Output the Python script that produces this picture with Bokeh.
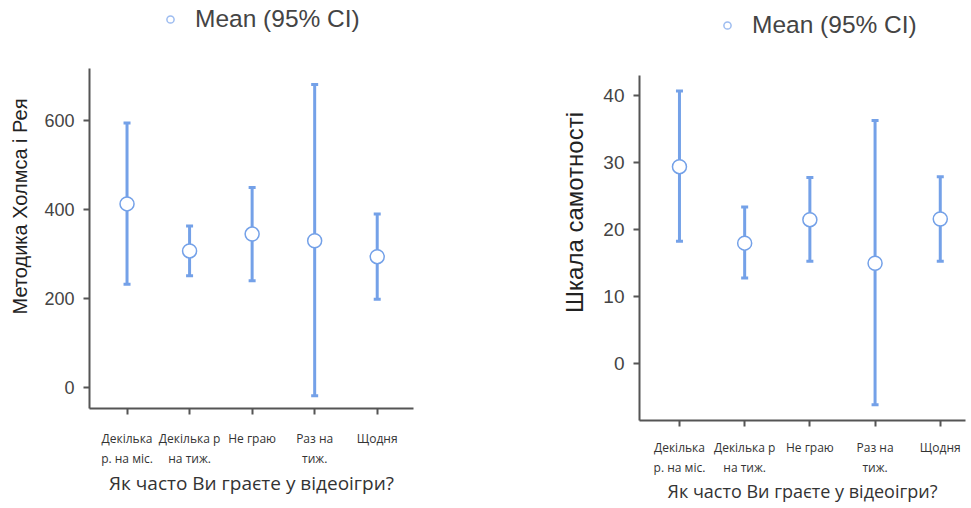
from bokeh.plotting import figure
from bokeh.layouts import row
from bokeh.models import FixedTicker, Legend, LegendItem, Range1d
from bokeh.embed import file_html
from bokeh.resources import INLINE

categories = ["Декілька\nр. на міс.", "Декілька р\nна тиж.", "Не граю", "Раз на\nтиж.", "Щодня"]
x_pos = [0, 1, 2, 3, 4]

# Left chart: Методика Холмса і Рея
holmes_mean = [413, 307, 345, 330, 294]
holmes_low = [232, 251, 240, -19, 198]
holmes_high = [595, 363, 450, 682, 390]

# Right chart: Шкала самотності
lonely_mean = [29.4, 18.0, 21.5, 15.0, 21.6]
lonely_low = [18.3, 12.8, 15.3, -6.1, 15.3]
lonely_high = [40.7, 23.4, 27.8, 36.3, 27.9]

holmes_ticks = [0, 200, 400, 600]
lonely_ticks = [0, 10, 20, 30, 40]

x_title = "Як часто Ви граєте у відеоігри?"
legend_label = "Mean (95% CI)"

BLUE = "#74a1e8"
LIGHT = "#9dbcf0"
AXIS = "#555555"


def make_chart(fw, fh, xr, yr, yb, mean, low, high, yticks, ylabel, borders,
               ytick_fs, ylabel_fs, ylabel_standoff, legend_loc,
               lab_standoff, title_fs, title_standoff):
    p = figure(frame_width=fw, frame_height=fh, output_backend="svg", toolbar_location=None,
               x_range=Range1d(*xr), y_range=Range1d(*yr),
               min_border_left=borders[0], min_border_right=borders[1],
               min_border_top=borders[2], min_border_bottom=borders[3])
    p.outline_line_color = None
    p.grid.visible = False
    p.background_fill_color = "white"
    p.border_fill_color = "white"

    p.segment(x0=x_pos, y0=low, x1=x_pos, y1=high, line_color=BLUE, line_width=3)
    p.scatter(x=x_pos + x_pos, y=low + high, marker="dash", size=7,
              line_color=BLUE, line_width=3)
    p.scatter(x=x_pos, y=mean, marker="circle", size=14, fill_color="white",
              line_color=BLUE, line_width=1.5)

    dummy = p.scatter(x=[float("nan")], y=[float("nan")], marker="circle", size=11,
                      fill_color=None, line_color=LIGHT, line_width=1.5)
    legend = Legend(items=[LegendItem(label=legend_label, renderers=[dummy])],
                    orientation="horizontal", location=legend_loc,
                    border_line_color=None, background_fill_alpha=0,
                    label_text_font="Liberation Sans", label_text_font_size="24.5px",
                    label_text_color="#444444", glyph_width=18, glyph_height=26,
                    label_standoff=16, padding=0, margin=0)
    p.add_layout(legend)

    p.xaxis.ticker = FixedTicker(ticks=x_pos)
    p.xaxis.major_label_overrides = {i: c for i, c in zip(x_pos, categories)}
    p.yaxis.ticker = FixedTicker(ticks=yticks)
    p.yaxis.bounds = yb

    for ax in (p.xaxis, p.yaxis):
        ax.axis_line_color = AXIS
        ax.axis_line_width = 2
        ax.major_tick_line_color = AXIS
        ax.major_tick_line_width = 2
        ax.major_tick_out = 6
        ax.major_tick_in = 0
        ax.minor_tick_line_color = None

    p.yaxis.major_label_text_font = "Liberation Sans"
    p.yaxis.major_label_text_font_size = ytick_fs
    p.yaxis.major_label_text_color = "#444444"
    p.yaxis.major_label_standoff = 9
    p.yaxis.axis_label = ylabel
    p.yaxis.axis_label_text_font = "Liberation Sans"
    p.yaxis.axis_label_text_font_size = ylabel_fs
    p.yaxis.axis_label_text_font_style = "normal"
    p.yaxis.axis_label_text_color = "#222222"
    p.yaxis.axis_label_standoff = ylabel_standoff

    p.xaxis.major_label_text_font = "Open Sans"
    p.xaxis.major_label_text_font_size = "12px"
    p.xaxis.major_label_text_color = "#333333"
    p.xaxis.major_label_standoff = lab_standoff
    p.xaxis.axis_label = x_title
    p.xaxis.axis_label_text_font = "Open Sans"
    p.xaxis.axis_label_text_font_size = title_fs
    p.xaxis.axis_label_text_font_style = "normal"
    p.xaxis.axis_label_text_color = "#333333"
    p.xaxis.axis_label_standoff = title_standoff
    return p


# the frame reaches up to the legend strip; axis bounds keep the drawn y axis to the data span
p1 = make_chart(324, 404, (-0.6, 4.58), (-48, 862.2), (-48, 718),
                holmes_mean, holmes_low, holmes_high, holmes_ticks,
                "Методика Холмса і Рея", (89, 135, 4, 88),
                "18px", "20px", 10, (72, 375), 15, "19px", 0)
p2 = make_chart(326, 416, (-0.613, 4.387), (-8.45, 53.59), (-8.45, 43.0),
                lonely_mean, lonely_low, lonely_high, lonely_ticks,
                "Шкала самотності", (91, 1, 4, 86),
                "19px", "24px", 12, (79, 381), 12, "18px", 0)

layout = row(p1, p2)
open("out.html", "w").write(file_html(layout, INLINE))
